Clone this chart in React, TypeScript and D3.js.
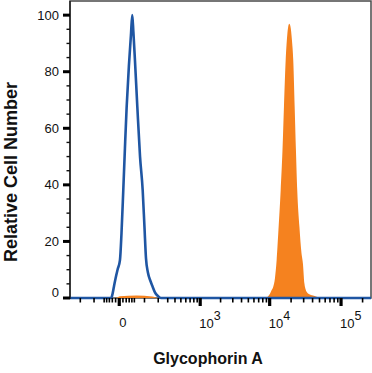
import React from 'react';
import * as d3 from 'd3';

// Control (blue outline) - channel values and relative counts
const controlX = [-310, -24, -21, -15, -10, -4.5, 1.8, 6, 11, 16, 21.5, 29, 36.5, 41.5, 46, 52.5, 63, 76, 90, 100, 109, 121, 138, 154, 172, 198, 226, 262144];
const controlY = [0, 0, 0.7, 4, 7, 10, 13.4, 23, 38, 53, 67.6, 82, 93, 100, 94, 84, 67.6, 50, 38, 25, 14, 9, 6, 4, 2, 0.7, 0, 0];

// Glycophorin A stained (orange fill)
const stainedX = [-310, -10, 2, 60, 150, 200, 8860, 9460, 10100, 10670, 11230, 11870, 12540, 13290, 14280, 15130, 15880, 16780, 17670, 18850, 19590, 20570, 21450, 22440, 23400, 24400, 26200, 27940, 29330, 30780, 32000, 33370, 36750, 41810, 47560, 54100, 262144];
const stainedY = [0, 0, 0.6, 0.9, 0.5, 0, 0, 0.5, 1.5, 2.8, 4, 7, 13.4, 24, 38, 52, 67.6, 84, 93, 97, 96, 91, 84, 67.6, 52, 38, 25, 16, 12, 5, 3, 2, 1.2, 0.8, 0.3, 0, 0];

const yMajor = [0, 20, 40, 60, 80, 100];
const yMinor = [5, 10, 15, 25, 30, 35, 45, 50, 55, 65, 70, 75, 85, 90, 95];
const xMajor = [0, 1000, 10000, 100000];
const xMajorLabels = ['0', '3', '4', '5'];
const xMinor = [-200, -100, -50, -40, -30, -20, -10, 10, 20, 30, 40, 50, 100, 200, 300, 400, 500, 600, 700, 800, 900,
  2000, 3000, 4000, 5000, 6000, 7000, 8000, 9000, 20000, 30000, 40000, 50000, 60000, 70000, 80000, 90000, 200000];

const FONT = 'Liberation Sans, Arial, Helvetica, sans-serif';

export default function App() {
  const width = 372;
  const height = 373;
  const left = 70, right = 371, top = 1, bottom = 298;

  const x = d3.scaleSymlog().constant(80).domain([-310, 262144]).range([left, right]);
  const y = d3.scaleLinear().domain([0, 105]).range([bottom, top]);

  const control = controlX.map((v, i) => [v, controlY[i]] as [number, number]);
  const stained = stainedX.map((v, i) => [v, stainedY[i]] as [number, number]);

  const line = d3.line<[number, number]>()
    .x(d => x(d[0]))
    .y(d => y(d[1]))
    .curve(d3.curveMonotoneX);

  const area = d3.area<[number, number]>()
    .x(d => x(d[0]))
    .y0(y(0))
    .y1(d => y(d[1]))
    .curve(d3.curveMonotoneX);

  return (
    <div style={{ position: 'absolute', left: 0, top: 0 }}>
      <svg width={width} height={height} style={{ display: 'block', background: '#fff' }}>
        <defs>
          <clipPath id="plot-clip">
            <rect x={left} y={top} width={right - left} height={bottom - top + 2} />
          </clipPath>
        </defs>

        {/* frame */}
        <rect x={left} y={top} width={right - left} height={bottom - top} fill="none" stroke="#4a4a4a" strokeWidth={1.5} />

        {/* data */}
        <g clipPath="url(#plot-clip)">
          <path d={area(stained) || ''} fill="#f5821f" />
          <path d={line(control) || ''} fill="none" stroke="#1f56a3" strokeWidth={2.6} strokeLinejoin="round" />
        </g>

        {/* y axis */}
        <line x1={left} x2={left} y1={top} y2={bottom + 1} stroke="#111" strokeWidth={1.2} />
        {yMinor.map(v => (
          <line key={'ym' + v} x1={left - 3.5} x2={left} y1={y(v)} y2={y(v)} stroke="#111" strokeWidth={1.4} />
        ))}
        {yMajor.map(v => (
          <g key={'yM' + v}>
            <line x1={left - 7} x2={left} y1={y(v)} y2={y(v)} stroke="#000" strokeWidth={3} />
            <text x={59} y={y(v) + (v === 0 ? -1 : 4.5)} textAnchor="end" fontFamily={FONT} fontSize={13} fill="#111">{v}</text>
          </g>
        ))}

        {/* x axis */}
        {xMinor.map(v => (
          <line key={'xm' + v} x1={x(v)} x2={x(v)} y1={bottom} y2={bottom + 4.5} stroke="#000" strokeWidth={1.6} />
        ))}
        {xMajor.map((v, i) => (
          <g key={'xM' + v}>
            <line x1={x(v)} x2={x(v)} y1={bottom} y2={bottom + 8} stroke="#000" strokeWidth={3.2} />
            {v === 0 ? (
              <text x={x(v) + 3.5} y={327} textAnchor="middle" fontFamily={FONT} fontSize={13} fill="#111">0</text>
            ) : (
              <text x={x(v) - 1} y={328} fontFamily={FONT} fontSize={13} fill="#111">
                10<tspan dy={-8.5} fontSize={12.5}>{xMajorLabels[i]}</tspan>
              </text>
            )}
          </g>
        ))}

        {/* titles */}
        <text x={208} y={364} textAnchor="middle" fontFamily={FONT} fontWeight="bold" fontSize={16} fill="#111">Glycophorin A</text>
        <text transform={`translate(17,172) rotate(-90)`} textAnchor="middle" fontFamily={FONT} fontWeight="bold" fontSize={18} fill="#111">Relative Cell Number</text>
      </svg>
    </div>
  );
}
